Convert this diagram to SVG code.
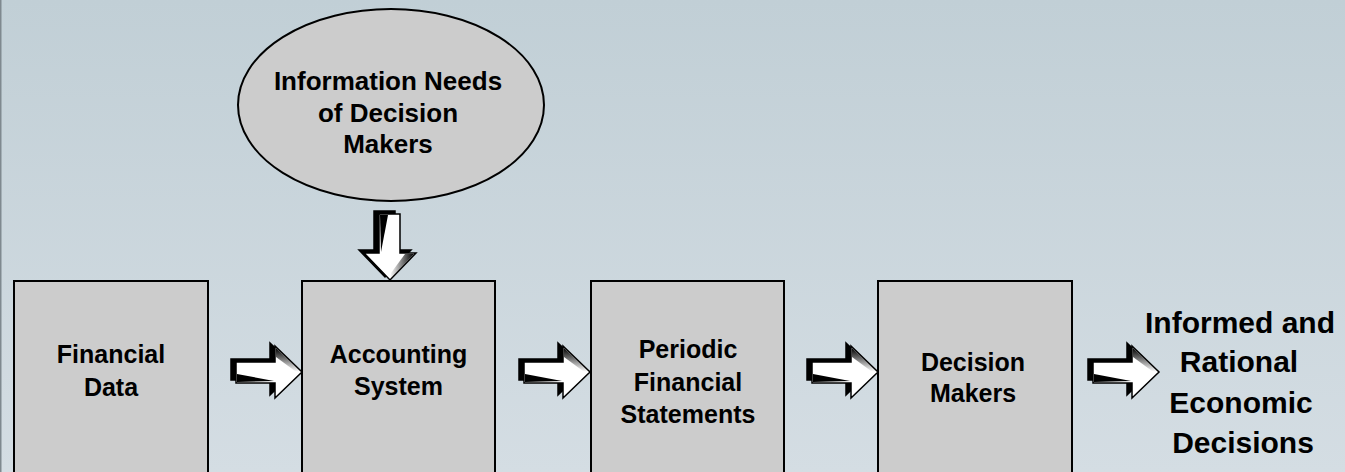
<svg xmlns="http://www.w3.org/2000/svg" xmlns:xlink="http://www.w3.org/1999/xlink" width="1345" height="472" viewBox="0 0 1345 472">
<defs>
<linearGradient id="bg" x1="0" y1="0" x2="0" y2="1">
<stop offset="0" stop-color="#c1cfd6"/>
<stop offset="1" stop-color="#d4dde3"/>
</linearGradient>
<linearGradient id="hs" x1="0" y1="0" x2="0" y2="1">
<stop offset="0" stop-color="#000"/>
<stop offset="1" stop-color="#000" stop-opacity="0"/>
</linearGradient>
<path id="ra" d="M-66,-10 L-27,-10 L-27,-26 L0,0 L-27,26 L-27,11 L-66,11 Z"/>
<g id="arrow">
<use xlink:href="#ra" transform="translate(-5,-3)" fill="#000" stroke="#000" stroke-width="1.5"/>
<use xlink:href="#ra" fill="#fff" stroke="#000" stroke-width="1.5" stroke-linejoin="miter"/>
<path d="M-65,2 L-28,9 L-65,10 Z" fill="#000"/>
<path d="M-26,-24 L-1,0 L-7,-1 L-26,-15 Z" fill="url(#hs)"/>
</g>
<g id="arrowD">
<use xlink:href="#ra" transform="translate(-3,5)" fill="#000" stroke="#000" stroke-width="1.5"/>
<use xlink:href="#ra" fill="#fff" stroke="#000" stroke-width="1.5"/>
<path d="M-65,2 L-28,9 L-65,10 Z" fill="#000"/>
<path d="M-26,-24 L-1,0 L-7,-1 L-26,-15 Z" fill="url(#hs)"/>
</g>
</defs>
<style>
.box{fill:#cccccc;stroke:#000;stroke-width:2}
.t{font-family:"Liberation Sans",Arial,sans-serif;font-weight:bold;font-size:25px;fill:#000;text-anchor:middle}
.te{font-size:26px}
.tr{font-size:30px}
</style>
<rect x="0" y="0" width="1345" height="472" fill="url(#bg)"/>
<rect x="0" y="0" width="1.5" height="472" fill="#7f898f"/>

<g id="ellipse-info-needs">
<ellipse cx="391" cy="105" rx="153" ry="96" class="box"/>
<text class="t te" x="388" y="90">Information Needs</text>
<text class="t te" x="388" y="122">of Decision</text>
<text class="t te" x="388" y="153">Makers</text>
</g>

<g id="box-financial-data">
<rect x="14" y="281" width="194" height="200" class="box"/>
<text class="t" x="111" y="363">Financial</text>
<text class="t" x="111" y="396">Data</text>
</g>

<g id="box-accounting-system">
<rect x="302" y="281" width="193" height="200" class="box"/>
<text class="t" x="398.5" y="363">Accounting</text>
<text class="t" x="398.5" y="395">System</text>
</g>

<g id="box-periodic-statements">
<rect x="591" y="281" width="193" height="200" class="box"/>
<text class="t" x="688" y="358">Periodic</text>
<text class="t" x="688" y="391">Financial</text>
<text class="t" x="688" y="423">Statements</text>
</g>

<g id="box-decision-makers">
<rect x="878" y="281" width="194" height="200" class="box"/>
<text class="t" x="973" y="371">Decision</text>
<text class="t" x="973" y="402">Makers</text>
</g>

<g id="label-decisions">
<text class="t tr" x="1240" y="333">Informed and</text>
<text class="t tr" x="1239" y="372">Rational</text>
<text class="t tr" x="1241" y="413">Economic</text>
<text class="t tr" x="1243" y="453">Decisions</text>
</g>

<g id="connectors">
<use xlink:href="#arrowD" transform="translate(390,280) rotate(90)"/>
<use xlink:href="#arrow" transform="translate(302,372)"/>
<use xlink:href="#arrow" transform="translate(590,372)"/>
<use xlink:href="#arrow" transform="translate(878,372)"/>
<use xlink:href="#arrow" transform="translate(1159,372)"/>
</g>
</svg>
